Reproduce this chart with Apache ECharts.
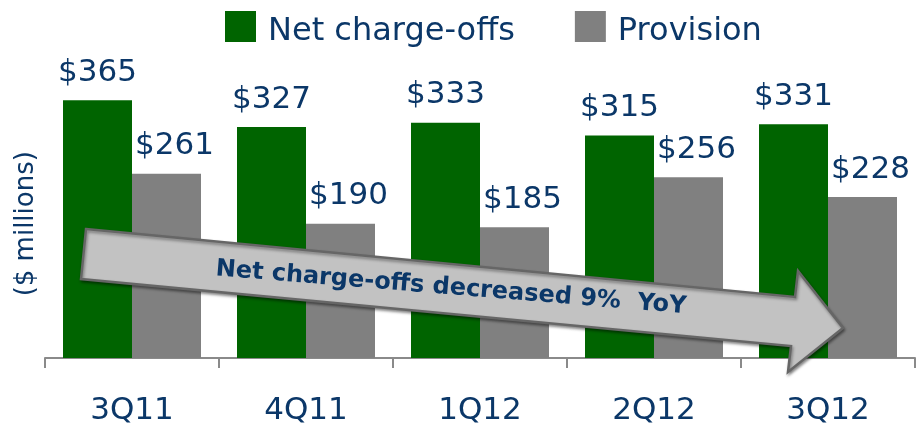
<!DOCTYPE html>
<html>
<head>
<meta charset="utf-8">
<script src="https://cdn.jsdelivr.net/npm/echarts@6/dist/echarts.min.js"></script>
<style>
  html, body { margin: 0; padding: 0; background: #fff; }
  #chart { width: 923px; height: 427px; }
</style>
</head>
<body>
<div id="chart"></div>
<script>
const quarters = ['3Q11', '4Q11', '1Q12', '2Q12', '3Q12']
const netChargeOffs = [365, 327, 333, 315, 331]
const provision = [261, 190, 185, 256, 228]
const arrowText = 'Net charge-offs decreased 9%  YoY'

const navy = '#0b3768'
const font = '"DejaVu Sans", Verdana, sans-serif'

const chart = echarts.init(document.getElementById('chart'))

const barLabel = (offsetX) => ({
  show: true,
  position: 'top',
  distance: 12,
  offset: [offsetX, 0],
  formatter: '${c}',
  color: navy,
  fontSize: 31,
  fontFamily: font,
})

const option = {
  animation: false,
  backgroundColor: '#fff',
  grid: { left: 45, right: 8, top: 75.5, bottom: 69 },
  legend: {
    left: 220,
    top: 6,
    itemWidth: 31,
    itemHeight: 31,
    itemGap: 60,
    icon: 'rect',
    formatter: '{n|{name}}',
    textStyle: {
      color: navy,
      fontSize: 32,
      fontFamily: font,
      rich: {
        n: { color: navy, fontSize: 32, fontFamily: font, padding: [10, 0, 0, 7] },
      },
    },
    data: ['Net charge-offs', 'Provision'],
  },
  xAxis: {
    type: 'category',
    data: quarters,
    axisLine: { lineStyle: { color: '#8a8a8a', width: 2 } },
    axisTick: { show: true, interval: 0, length: 10, lineStyle: { color: '#8a8a8a', width: 2 } },
    axisLabel: { color: navy, fontSize: 31, fontFamily: font, margin: 37 },
  },
  yAxis: {
    type: 'value',
    min: 0,
    max: 400,
    axisLine: { show: false },
    axisTick: { show: false },
    axisLabel: { show: false },
    splitLine: { show: false },
    name: '($ millions)',
    nameLocation: 'middle',
    nameRotate: 90,
    nameGap: 6,
    nameTextStyle: { color: navy, fontSize: 26, fontFamily: font, padding: [0, 14, 0, 0] },
  },
  series: [
    {
      name: 'Net charge-offs',
      type: 'bar',
      data: netChargeOffs,
      barWidth: 69,
      barGap: '0%',
      itemStyle: { color: '#006400' },
      label: barLabel(0),
    },
    {
      name: 'Provision',
      type: 'bar',
      data: provision,
      barWidth: 69,
      itemStyle: { color: '#808080' },
      label: barLabel(8),
    },
  ],
  graphic: [
    {
      type: 'polygon',
      z: 100,
      shape: {
        points: [
          [86, 229], [795, 297], [798, 271], [843, 328],
          [788, 372], [791, 346], [81, 279],
        ],
      },
      style: {
        fill: '#c2c2c2',
        stroke: '#666',
        lineWidth: 2.5,
        shadowBlur: 3,
        shadowColor: 'rgba(0,0,0,0.4)',
        shadowOffsetX: 1,
        shadowOffsetY: 2,
      },
    },
    {
      type: 'text',
      z: 101,
      x: 451,
      y: 288,
      rotation: -0.08,
      style: {
        text: arrowText,
        fill: navy,
        font: 'bold 24px ' + font,
        align: 'center',
        verticalAlign: 'middle',
      },
    },
  ],
}

chart.setOption(option)
window.addEventListener('resize', () => chart.resize())
</script>
</body>
</html>
